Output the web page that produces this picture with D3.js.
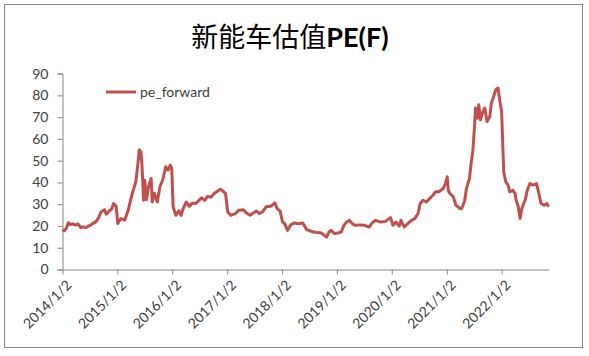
<!DOCTYPE html>
<html><head><meta charset="utf-8">
<script src="https://cdn.jsdelivr.net/npm/d3@7/dist/d3.min.js"></script>
<style>body{margin:0;background:#fff}</style>
</head><body>
<svg id="c" width="589" height="356"></svg>
<script>
const titleCJK = "新能车估值";
const titleLatin = "PE(F)";
const seriesName = "pe_forward";
const dates = [
"2014-01-02","2014-01-14","2014-01-28","2014-02-10","2014-02-24","2014-03-10","2014-03-28","2014-04-15","2014-05-05","2014-05-20",
"2014-06-05","2014-06-20","2014-07-08","2014-07-25","2014-08-15","2014-09-01","2014-09-15","2014-10-08","2014-10-20","2014-11-10",
"2014-11-25","2014-12-08","2014-12-25","2015-01-05","2015-01-25","2015-02-20","2015-03-15","2015-04-08","2015-04-25","2015-05-05",
"2015-05-18","2015-05-28","2015-06-08","2015-06-15","2015-06-25","2015-07-03","2015-07-15","2015-07-28","2015-08-15","2015-08-22",
"2015-09-05","2015-09-25","2015-10-12","2015-10-30","2015-11-20","2015-12-05","2015-12-20","2015-12-30","2016-01-08","2016-01-26",
"2016-02-15","2016-03-01","2016-03-15","2016-04-05","2016-04-25","2016-05-15","2016-06-05","2016-07-15","2016-08-05","2016-08-25",
"2016-09-15","2016-10-12","2016-11-18","2016-12-05","2016-12-22","2017-01-05","2017-01-25","2017-02-25","2017-03-20","2017-04-20",
"2017-05-10","2017-06-03","2017-06-25","2017-07-15","2017-08-05","2017-08-25","2017-09-18","2017-10-20","2017-11-15","2017-11-30",
"2017-12-20","2018-01-05","2018-01-20","2018-02-08","2018-03-01","2018-03-22","2018-04-20","2018-05-20","2018-06-15","2018-07-10",
"2018-07-28","2018-08-25","2018-09-20","2018-10-25","2018-11-10","2018-11-25","2018-12-15","2019-01-08","2019-01-30","2019-02-18",
"2019-03-08","2019-03-25","2019-04-15","2019-05-05","2019-06-05","2019-07-05","2019-08-04","2019-08-25","2019-09-17","2019-10-20",
"2019-11-20","2019-12-25","2020-01-10","2020-01-30","2020-02-21","2020-03-03","2020-03-25","2020-04-16","2020-05-12","2020-06-03",
"2020-06-25","2020-07-09","2020-07-28","2020-08-19","2020-09-10","2020-10-02","2020-10-20","2020-11-10","2020-11-25","2020-12-09",
"2020-12-24","2021-01-05","2021-01-12","2021-01-23","2021-02-14","2021-03-04","2021-03-18","2021-03-29","2021-04-09","2021-04-20",
"2021-05-01","2021-05-12","2021-06-02","2021-06-13","2021-06-24","2021-07-05","2021-07-12","2021-07-23","2021-08-03","2021-08-14",
"2021-08-29","2021-09-12","2021-09-27","2021-10-15","2021-10-26","2021-11-10","2021-11-24","2021-12-09","2021-12-20","2022-01-02",
"2022-01-09","2022-01-16","2022-01-30","2022-02-14","2022-02-24","2022-03-18","2022-04-01","2022-04-09","2022-04-23","2022-05-05",
"2022-05-16","2022-06-07","2022-06-22","2022-07-09","2022-07-31","2022-08-22","2022-09-02","2022-09-21","2022-10-12","2022-10-31",
"2022-11-10"
];
const peForward = [
18.3,17.8,19.0,21.5,20.6,21.0,20.4,20.9,19.2,19.6,
19.2,19.8,20.4,21.2,22.1,24.0,26.4,27.5,25.4,27.0,
27.8,30.3,29.0,21.1,23.4,22.7,27.2,34.1,38.0,40.3,
48.0,55.0,54.0,48.0,31.8,41.0,32.0,38.0,41.8,31.0,
35.0,31.0,38.0,41.0,47.2,45.7,48.0,46.4,28.8,24.9,
27.0,24.9,28.0,31.0,29.0,30.5,30.3,32.9,31.8,33.6,
33.2,35.2,36.9,36.0,34.9,26.5,24.9,25.7,27.2,27.5,
26.0,24.9,26.0,26.9,25.7,26.5,28.8,29.1,30.6,28.0,
26.9,21.8,21.0,18.0,20.5,21.4,21.0,21.4,18.3,17.7,
17.2,17.0,16.8,14.9,17.2,18.0,16.5,16.8,17.2,20.3,
21.8,22.6,21.0,20.3,20.5,20.3,19.5,21.4,22.6,21.8,
22.1,23.8,20.3,21.8,19.9,22.6,19.5,21.0,22.6,23.4,
25.7,30.3,31.8,31.0,32.6,34.1,35.7,35.7,36.4,37.2,
39.5,42.6,36.4,34.9,33.4,29.5,28.8,28.0,27.9,29.5,
31.5,36.8,41.8,48.8,54.0,64.9,74.2,69.5,75.7,68.7,
72.3,74.2,68.0,70.2,76.5,79.5,82.6,83.4,78.0,72.6,
58.8,44.9,40.3,38.8,35.7,36.4,35.0,31.8,28.8,23.4,
27.9,31.8,36.4,39.5,38.8,39.5,36.4,30.3,29.5,30.3,
28.8
];
const yTicks = [0,10,20,30,40,50,60,70,80,90];
const xTickDates = ["2014-01-02","2015-01-02","2016-01-02","2017-01-02","2018-01-02","2019-01-02","2020-01-02","2021-01-02","2022-01-02"];
const xTickLabels = ["2014/1/2","2015/1/2","2016/1/2","2017/1/2","2018/1/2","2019/1/2","2020/1/2","2021/1/2","2022/1/2"];

const parse = d3.timeParse("%Y-%m-%d");
const data = dates.map((d,i)=>({date:parse(d), v:peForward[i]}));
const svg = d3.select("#c");
const font = "Lato, 'Open Sans', sans-serif";
const axisColor = "#868686";
const textColor = "#404040";
const lineColor = "#c0504d";

svg.append("rect").attr("x",4.5).attr("y",4.5).attr("width",578).attr("height",343)
  .attr("fill","#fff").attr("stroke",axisColor).attr("stroke-width",1);

const x = d3.scaleTime().domain([parse(dates[0]), parse(dates[dates.length-1])]).range([62.5, 548.5]);
const y = d3.scaleLinear().domain([0,90]).range([269.5, 73.6]);

// title
const t = svg.append("text").attr("x",290).attr("y",47).attr("text-anchor","middle")
  .attr("fill","#000").style("font-size","27px");
t.append("tspan").text(titleCJK).style("font-family","'Noto Sans CJK SC'").style("font-weight","400");
t.append("tspan").text(titleLatin).style("font-family",font).style("font-weight","bold");

// y axis
const yAxis = svg.append("g").attr("transform","translate(62.5,0)")
  .call(d3.axisLeft(y).tickValues(yTicks).tickSize(5).tickPadding(9));
yAxis.select(".domain").attr("stroke",axisColor);
yAxis.selectAll(".tick line").attr("stroke",axisColor);
yAxis.selectAll(".tick text").attr("fill",textColor).style("font-family",font).style("font-size","14px");

// x axis
const tickMap = new Map(xTickDates.map((d,i)=>[+parse(d), xTickLabels[i]]));
const xAxis = svg.append("g").attr("transform","translate(0,269.5)")
  .call(d3.axisBottom(x).tickValues(xTickDates.map(parse)).tickSize(5).tickSizeOuter(0)
    .tickFormat(d=>tickMap.get(+d)));
xAxis.select(".domain").attr("stroke",axisColor);
xAxis.selectAll(".tick line").attr("stroke",axisColor);
xAxis.selectAll(".tick text").attr("fill",textColor).style("font-family",font).style("font-size","14px")
  .attr("text-anchor","end").attr("transform","translate(6,13) rotate(-45)").attr("dy","0.35em").attr("y",0).attr("x",0);

// line
const line = d3.line().x(d=>x(d.date)).y(d=>y(d.v));
svg.append("path").datum(data).attr("d",line).attr("fill","none")
  .attr("stroke",lineColor).attr("stroke-width",3).attr("stroke-linejoin","round");

// legend
svg.append("line").attr("x1",106).attr("x2",136).attr("y1",92).attr("y2",92)
  .attr("stroke",lineColor).attr("stroke-width",3);
svg.append("text").attr("x",140).attr("y",97).text(seriesName)
  .attr("fill",textColor).style("font-family",font).style("font-size","14px");
</script>
</body></html>
